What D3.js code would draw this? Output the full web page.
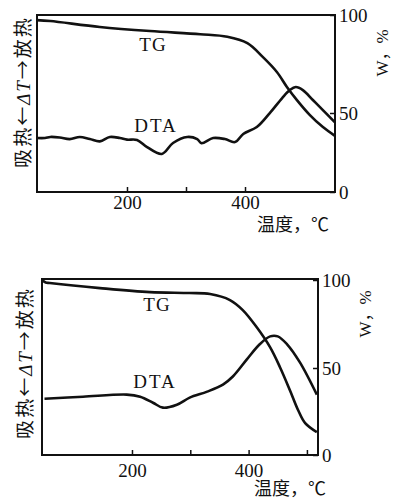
<!DOCTYPE html>
<html>
<head>
<meta charset="utf-8">
<script src="https://cdn.jsdelivr.net/npm/d3@7"></script>
<style>
  body { margin: 0; background: #fff; }
  svg text { font-family: "Liberation Serif", "Noto Sans CJK SC", serif; fill: #111; }
</style>
</head>
<body>
<svg id="drawing_region"></svg>
<script>
// temperature ticks (both panels)
const topTicks = [200, 300, 400];
const bottomTicks = [200, 300, 400, 500];
const tickLabels = [200, 400];
const weightTicks = [0, 50, 100];

// upper panel, TG (W,%) and DTA (arbitrary units, 0..100 of the box height)
const tgTemp1 = [47, 70, 154, 239, 324, 370, 404, 430, 454, 471, 488, 510, 532, 553];
const tgVal1  = [97.4, 96.9, 93.9, 91.8, 90.2, 88.9, 85.6, 78.6, 70.9, 63.3, 56.6, 48.7, 41.1, 35.4];
const dtaTemp1 = [47, 61, 70, 86, 103, 120, 137, 154, 171, 188, 200, 217, 234, 259, 278, 302, 319, 326, 346, 366, 383, 397, 420, 442, 463, 476, 486, 498, 515, 532, 552];
const dtaVal1  = [30.5, 30.5, 31.1, 30.8, 29.9, 31.1, 29.9, 28.6, 31.1, 30.5, 29.6, 29.4, 25.4, 21.5, 27.7, 31.1, 29.9, 27.6, 30.5, 29.9, 28.2, 32.8, 36.7, 44.6, 53.1, 57.6, 59.3, 57.6, 52.0, 46.3, 39.5];

// lower panel
const tgTemp2 = [46, 52, 59, 145, 231, 299, 334, 368, 390, 414, 437, 454, 471, 485, 497, 517];
const tgVal2  = [100, 98.6, 98.3, 95.4, 93.1, 92.6, 92.0, 88.6, 82.9, 73.1, 61.7, 50.3, 37.1, 25.7, 18.3, 13.1];
const dtaTemp2 = [50, 116, 191, 214, 236, 253, 277, 299, 329, 356, 373, 397, 419, 437, 450, 466, 488, 517];
const dtaVal2  = [32, 33.1, 34.3, 33.1, 29.7, 26.9, 28.6, 32.6, 36, 40, 44.6, 54.3, 62.9, 67.4, 67.4, 62.9, 52.6, 34.3];

const panels = [
  { left: 37, right: 335, top: 15, bottom: 192, tDomain: [47.5, 552.5], wRange: [192, 113, 15],
    ticks: topTicks, tg: [tgTemp1, tgVal1], dta: [dtaTemp1, dtaVal1], xPad: 4,
    tgLabel: [153, 44], dtaLabel: [156, 125], yTitle: [23, 92], wTitle: [382, 53], xTitle: [293, 225] },
  { left: 42, right: 318, top: 279, bottom: 455, tDomain: [45.7, 519], wRange: [455, 368, 280],
    ticks: bottomTicks, tg: [tgTemp2, tgVal2], dta: [dtaTemp2, dtaVal2], xPad: 9,
    tgLabel: [157, 304], dtaLabel: [155, 381], yTitle: [25, 363], wTitle: [365, 314], xTitle: [290, 489] }
];

const svg = d3.select('#drawing_region')
  .attr('width', 394)
  .attr('height', 501);

panels.forEach(p => {
  const x = d3.scaleLinear().domain(p.tDomain).range([p.left, p.right]);
  const w = d3.scaleLinear().domain(weightTicks).range(p.wRange);
  const dta = d3.scaleLinear().domain([0, 100]).range([p.bottom, p.top]);

  const g = svg.append('g');

  // frame
  g.append('rect')
    .attr('x', p.left).attr('y', p.top)
    .attr('width', p.right - p.left).attr('height', p.bottom - p.top)
    .attr('fill', 'none').attr('stroke', '#111').attr('stroke-width', 2);

  const xaxis = d3.axisBottom(x)
    .tickValues(p.ticks)
    .tickFormat(d => tickLabels.includes(d) ? d : '')
    .tickSizeInner(-5).tickSizeOuter(0).tickPadding(p.xPad);
  const xg = g.append('g').attr('transform', `translate(0,${p.bottom})`).call(xaxis);
  xg.select('.domain').remove();

  const waxis = d3.axisRight(w)
    .tickValues(weightTicks)
    .tickSizeInner(-5).tickSizeOuter(0).tickPadding(4);
  const wg = g.append('g').attr('transform', `translate(${p.right},0)`).call(waxis);
  wg.select('.domain').remove();

  [xg, wg].forEach(a => {
    a.selectAll('line').attr('stroke', '#111').attr('stroke-width', 1.5);
    a.selectAll('text').attr('font-size', 19).attr('fill', '#111');
  });

  const line = d3.line().curve(d3.curveCatmullRom.alpha(0.5));

  g.append('path')
    .attr('d', line(p.tg[0].map((t, i) => [x(t), w(p.tg[1][i])])))
    .attr('fill', 'none').attr('stroke', '#111').attr('stroke-width', 2.6);
  g.append('path')
    .attr('d', line(p.dta[0].map((t, i) => [x(t), dta(p.dta[1][i])])))
    .attr('fill', 'none').attr('stroke', '#111').attr('stroke-width', 2.6);

  g.append('text').attr('x', p.tgLabel[0]).attr('y', p.tgLabel[1]).attr('dy', '0.35em')
    .attr('text-anchor', 'middle').attr('font-size', 19).attr('letter-spacing', 1).text('TG');
  g.append('text').attr('x', p.dtaLabel[0]).attr('y', p.dtaLabel[1]).attr('dy', '0.35em')
    .attr('text-anchor', 'middle').attr('font-size', 19).attr('letter-spacing', 2).text('DTA');

  // left title, rotated
  const yt = g.append('text')
    .attr('transform', `translate(${p.yTitle[0]},${p.yTitle[1]}) rotate(-90)`)
    .attr('text-anchor', 'middle').attr('dy', '0.35em').attr('font-size', 19)
    .attr('letter-spacing', 2);
  yt.append('tspan').attr('font-family', '"Noto Sans CJK SC"').text('吸热←');
  yt.append('tspan').attr('font-style', 'italic').text('ΔT');
  yt.append('tspan').attr('font-family', '"Noto Sans CJK SC"').text('→放热');

  // right title
  g.append('text')
    .attr('transform', `translate(${p.wTitle[0]},${p.wTitle[1]}) rotate(-90)`)
    .attr('text-anchor', 'middle').attr('dy', '0.35em').attr('font-size', 17)
    .text('W，%');

  // x title
  g.append('text').attr('x', p.xTitle[0]).attr('y', p.xTitle[1]).attr('dy', '0.35em')
    .attr('text-anchor', 'middle').attr('font-size', 18)
    .attr('font-family', '"Noto Sans CJK SC"').text('温度，℃');
});
</script>
</body>
</html>
